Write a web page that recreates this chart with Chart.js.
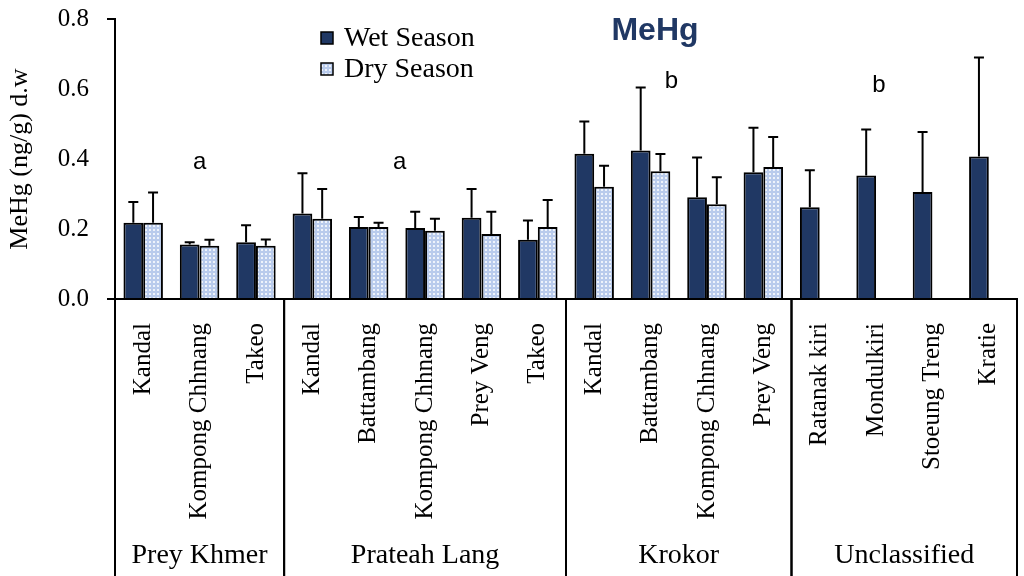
<!DOCTYPE html>
<html>
<head>
<meta charset="utf-8">
<script src="https://cdn.jsdelivr.net/npm/chart.js@4/dist/chart.umd.min.js"></script>
<style>
  body { margin: 0; background: #fff; }
  #chart { display: block; }
</style>
</head>
<body>
<canvas id="chart" width="1024" height="576"></canvas>
<script>
// sites (one bar pair per site)
const sites = ['Kandal', 'Kompong Chhnang', 'Takeo',
    'Kandal', 'Battambang', 'Kompong Chhnang', 'Prey Veng', 'Takeo',
    'Kandal', 'Battambang', 'Kompong Chhnang', 'Prey Veng',
    'Ratanak kiri', 'Mondulkiri', 'Stoeung Treng', 'Kratie'];

// groups under the sites
const groupNames = ['Prey Khmer', 'Prateah Lang', 'Krokor', 'Unclassified'];
const groupSizes = [3, 5, 4, 4];

// MeHg means and upper error (ng/g d.w)
const wetValues = [0.218, 0.156, 0.162, 0.244, 0.206, 0.203, 0.232, 0.169, 0.415, 0.424, 0.291, 0.362, 0.262, 0.353, 0.306, 0.407];
const wetErrors = [0.059, 0.006, 0.049, 0.115, 0.028, 0.046, 0.082, 0.055, 0.092, 0.180, 0.113, 0.127, 0.106, 0.131, 0.171, 0.283];
const dryValues = [0.218, 0.152, 0.152, 0.229, 0.206, 0.195, 0.186, 0.206, 0.321, 0.365, 0.271, 0.377, null, null, null, null];
const dryErrors = [0.086, 0.017, 0.018, 0.085, 0.012, 0.034, 0.063, 0.077, 0.060, 0.049, 0.077, 0.086, null, null, null, null];

// significance letters: [text, site index, value]
const letters = [['a', 1, 0.39], ['a', 4.55, 0.39], ['b', 9.37, 0.623], ['b', 13.05, 0.609]];

const yTicks = [0, 0.2, 0.4, 0.6, 0.8];

const serif = "'Liberation Serif', 'Times New Roman', serif";
const sans = "'Liberation Sans', Arial, sans-serif";
const navy = '#203864';

// light blue lattice fill for the dry season
function makePattern(){
    const c = document.createElement('canvas');
    c.width = 4; c.height = 4;
    const g = c.getContext('2d');
    g.fillStyle = '#b9cbec';
    g.fillRect(0, 0, 4, 4);
    g.fillStyle = '#eef3fb';
    g.fillRect(1, 1, 2, 2);
    return g.createPattern(c, 'repeat');
}
const dryFill = makePattern();

const errorBars = {
    id: 'errorBars',
    afterDatasetsDraw(chart){
        const ctx = chart.ctx;
        const y = chart.scales.y;
        const errs = [wetErrors, dryErrors];
        ctx.save();
        ctx.strokeStyle = '#000';
        ctx.lineWidth = 2;
        chart.data.datasets.forEach(function(ds, d){
            const meta = chart.getDatasetMeta(d);
            ds.data.forEach(function(v, i){
                if (v === null || errs[d][i] === null) return;
                const bx = meta.data[i].x;
                const y0 = y.getPixelForValue(v);
                const y1 = y.getPixelForValue(v + errs[d][i]);
                ctx.beginPath();
                ctx.moveTo(bx, y0);
                ctx.lineTo(bx, y1);
                ctx.moveTo(bx - 5, y1);
                ctx.lineTo(bx + 5, y1);
                ctx.stroke();
            });
        });
        ctx.restore();
    }
};

const extras = {
    id: 'extras',
    afterDraw(chart){
        const ctx = chart.ctx;
        const x = chart.scales.x;
        const y = chart.scales.y;
        const area = chart.chartArea;
        ctx.save();

        // group separators and names
        ctx.strokeStyle = '#000';
        ctx.lineWidth = 2;
        let start = 0;
        let left = area.left;
        groupSizes.forEach(function(n, g){
            const end = start + n;
            const right = end >= sites.length ? area.right : (x.getPixelForValue(end - 1) + x.getPixelForValue(end)) / 2;
            ctx.beginPath();
            ctx.moveTo(left, area.bottom);
            ctx.lineTo(left, chart.height);
            ctx.moveTo(right, area.bottom);
            ctx.lineTo(right, chart.height);
            ctx.stroke();
            ctx.fillStyle = '#000';
            ctx.font = '28px ' + serif;
            ctx.textAlign = 'center';
            ctx.textBaseline = 'middle';
            ctx.fillText(groupNames[g], (left + right) / 2, 556);
            start = end;
            left = right;
        });

        // letters
        ctx.font = '24px ' + sans;
        ctx.fillStyle = '#000';
        letters.forEach(function(l){
            ctx.fillText(l[0], x.getPixelForValue(l[1]), y.getPixelForValue(l[2]));
        });

        // title
        ctx.font = 'bold 32px ' + sans;
        ctx.fillStyle = navy;
        ctx.fillText('MeHg', 655, 31);

        // legend
        const items = [['Wet Season', navy, 38], ['Dry Season', dryFill, 69]];
        ctx.textAlign = 'left';
        ctx.font = '28px ' + serif;
        items.forEach(function(it){
            ctx.fillStyle = it[1];
            ctx.fillRect(321, it[2] - 6, 12, 12);
            ctx.lineWidth = 1.5;
            ctx.strokeStyle = '#000';
            ctx.strokeRect(321, it[2] - 6, 12, 12);
            ctx.fillStyle = '#000';
            ctx.fillText(it[0], 344, it[2] + 1);
        });
        ctx.restore();
    }
};

const chart = new Chart(document.getElementById('chart'), {
    type: 'bar',
    data: {
        labels: sites,
        datasets: [{
            label: 'Wet Season',
            data: wetValues,
            backgroundColor: navy,
            borderColor: '#000',
            borderWidth: 2
        }, {
            label: 'Dry Season',
            data: dryValues,
            backgroundColor: dryFill,
            borderColor: '#000',
            borderWidth: 2
        }]
    },
    options: {
        responsive: false,
        animation: false,
        layout: { padding: { top: 19, right: 7, left: 0, bottom: 0 } },
        datasets: { bar: { categoryPercentage: 0.7, barPercentage: 1.0 } },
        plugins: {
            legend: { display: false },
            title: { display: false },
            tooltip: { enabled: false }
        },
        scales: {
            x: {
                grid: { display: false },
                border: { display: true, color: '#000', width: 2 },
                ticks: {
                    autoSkip: false,
                    minRotation: 90,
                    maxRotation: 90,
                    padding: 16,
                    color: '#000',
                    font: { family: serif, size: 25 }
                },
                afterFit(scale){
                    scale.height = 277;
                    scale.paddingLeft = 0;
                    scale.paddingRight = 0;
                }
            },
            y: {
                min: 0,
                max: 0.8,
                afterBuildTicks(scale){ scale.ticks = yTicks.map(v => ({value: v})); },
                grid: {
                    drawOnChartArea: false,
                    tickLength: 8,
                    lineWidth: 2,
                    color: c => (c.index === 0 || c.index === yTicks.length - 1) ? '#000' : 'rgba(0,0,0,0)'
                },
                border: { display: true, color: '#000', width: 2 },
                ticks: {
                    padding: 18,
                    color: '#000',
                    font: { family: serif, size: 25 },
                    callback: v => Number(v).toFixed(1)
                },
                title: {
                    display: true,
                    text: 'MeHg (ng/g) d.w',
                    color: '#000',
                    font: { family: serif, size: 26 },
                    padding: { top: 5, bottom: 0 }
                },
                afterFit(scale){
                    scale.width = 115;
                    scale.paddingTop = 0;
                    scale.paddingBottom = 0;
                }
            }
        }
    },
    plugins: [errorBars, extras]
});
</script>
</body>
</html>
